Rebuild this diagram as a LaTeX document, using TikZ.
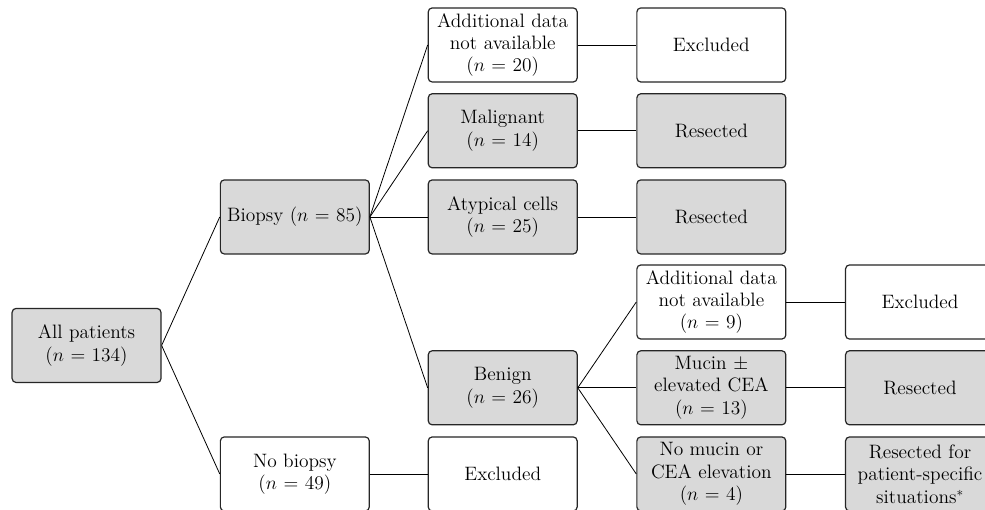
\documentclass[tikz,border=0pt]{standalone}
\usepackage{amsmath,amssymb}
\usepackage{tikz}
\usetikzlibrary{positioning}
\usepackage{xcolor}

\begin{document}
\begin{tikzpicture}[every node/.style={font=\fontsize{14.6}{16.8}\selectfont},
  box/.style={draw=black!85,line width=0.9pt,rounded corners=3pt,fill=white,
    minimum width=3.94cm,minimum height=1.96cm,text width=3.85cm,align=center,inner sep=1pt},
  gbox/.style={box,fill=black!15},
  link/.style={line width=0.6pt}]
\useasboundingbox (0,0) rectangle (26.06,13.49);
\node[gbox] (all) at (2.29,4.35) {All patients\\($n$ = 134)};
\node[gbox] (bio) at (7.8,7.75) {Biopsy ($n$ = 85)};
\node[box] (nobio) at (7.8,0.95) {No biopsy\\($n$ = 49)};
\node[box] (add1) at (13.3,12.3) {Additional data\\not available\\($n$ = 20)};
\node[gbox] (mal) at (13.3,10.03) {Malignant\\($n$ = 14)};
\node[gbox] (aty) at (13.3,7.75) {Atypical cells\\($n$ = 25)};
\node[gbox] (ben) at (13.3,3.23) {Benign\\($n$ = 26)};
\node[box] (exc0) at (13.3,0.95) {Excluded};
\node[box] (exc1) at (18.82,12.3) {Excluded};
\node[gbox] (res1) at (18.82,10.03) {Resected};
\node[gbox] (res2) at (18.82,7.75) {Resected};
\node[box] (add2) at (18.82,5.5) {Additional data\\not available\\($n$ = 9)};
\node[gbox] (muc) at (18.82,3.23) {Mucin $\pm$\\elevated CEA\\($n$ = 13)};
\node[gbox] (nomuc) at (18.82,0.95) {No mucin or\\CEA elevation\\($n$ = 4)};
\node[box] (exc2) at (24.34,5.5) {Excluded};
\node[gbox] (res3) at (24.34,3.23) {Resected};
\node[gbox] (res4) at (24.34,0.95) {Resected for\\patient-specific\\situations$^{*}$};
% branches
\draw[link] (all.east) -- (bio.west);
\draw[link] (all.east) -- (nobio.west);
\draw[link] (bio.east) -- (add1.west);
\draw[link] (bio.east) -- (mal.west);
\draw[link] (bio.east) -- (aty.west);
\draw[link] (bio.east) -- (ben.west);
\draw[link] (nobio) -- (exc0);
\draw[link] (add1) -- (exc1);
\draw[link] (mal) -- (res1);
\draw[link] (aty) -- (res2);
\draw[link] (ben.east) -- (add2.west);
\draw[link] (ben.east) -- (muc.west);
\draw[link] (ben.east) -- (nomuc.west);
\draw[link] (add2) -- (exc2);
\draw[link] (muc) -- (res3);
\draw[link] (nomuc) -- (res4);
\end{tikzpicture}
\end{document}
